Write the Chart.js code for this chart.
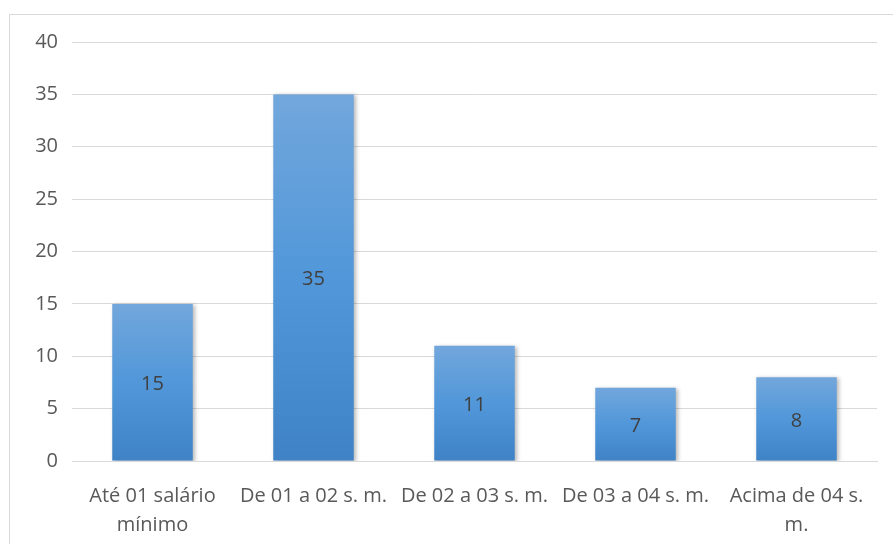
<!DOCTYPE html>
<html>
<head>
<meta charset="utf-8">
<script src="https://cdn.jsdelivr.net/npm/chart.js@4"></script>
<style>
  html, body { margin: 0; padding: 0; background: #fff; overflow: hidden; }
  #wrap { position: relative; width: 893px; height: 544px; }
  #frame { position: absolute; left: 9px; top: 14px; width: 920px; height: 600px; border: 1px solid #d9d9d9; box-sizing: border-box; }
  canvas { position: absolute; left: 0; top: 0; }
</style>
</head>
<body>
<div id="wrap">
  <div id="frame"></div>
  <canvas id="c" width="893" height="544"></canvas>
</div>
<script>
// Faixas de renda familiar
const categories = [
  ['Até 01 salário', 'mínimo'],
  'De 01 a 02 s. m.',
  'De 02 a 03 s. m.',
  'De 03 a 04 s. m.',
  ['Acima de 04 s.', 'm.']
];
const values = [15, 35, 11, 7, 8];
const yTicks = [0, 5, 10, 15, 20, 25, 30, 35, 40];

const FONT = "'Open Sans', 'Liberation Sans', sans-serif";
const TEXT = '#595959';

// vertical gradient for each bar, from its own top down to the baseline
function barFill(ctx) {
  const chart = ctx.chart;
  const { chartArea } = chart;
  if (!chartArea || ctx.parsed === undefined) return '#5b9bd5';
  const y = chart.scales.y;
  const top = y.getPixelForValue(ctx.parsed.y);
  const bottom = y.getPixelForValue(0);
  const g = chart.ctx.createLinearGradient(0, top, 0, bottom);
  g.addColorStop(0, '#72a7dc');
  g.addColorStop(0.5, '#5197d9');
  g.addColorStop(1, '#3f83c6');
  return g;
}

// soft drop shadow behind the bars
const barShadow = {
  id: 'barShadow',
  beforeDatasetsDraw(chart) {
    const c = chart.ctx;
    c.save();
    c.shadowColor = 'rgba(0,0,0,0.28)';
    c.shadowBlur = 4;
    c.shadowOffsetX = 2;
    c.shadowOffsetY = 1;
  },
  afterDatasetsDraw(chart) {
    chart.ctx.restore();
  }
};

// value written in the middle of each bar
const centerLabels = {
  id: 'centerLabels',
  afterDatasetsDraw(chart) {
    const c = chart.ctx;
    const meta = chart.getDatasetMeta(0);
    c.save();
    c.font = '20px ' + FONT;
    c.fillStyle = '#404040';
    c.textAlign = 'center';
    c.textBaseline = 'middle';
    meta.data.forEach((bar, i) => {
      const mid = (bar.y + bar.base) / 2;
      c.fillText(String(values[i]), bar.x, mid + 2);
    });
    c.restore();
  }
};

new Chart(document.getElementById('c'), {
  type: 'bar',
  data: {
    labels: categories,
    datasets: [{
      data: values,
      backgroundColor: barFill,
      borderWidth: 0,
      barPercentage: 0.5,
      categoryPercentage: 1.0
    }]
  },
  options: {
    responsive: false,
    animation: false,
    devicePixelRatio: 1,
    layout: { padding: { top: 42, right: 16, left: 0, bottom: 0 } },
    plugins: { legend: { display: false }, tooltip: { enabled: false } },
    scales: {
      y: {
        min: 0,
        max: 40,
        afterBuildTicks(scale) { scale.ticks = yTicks.map(v => ({ value: v })); },
        afterFit(scale) { scale.width = 72; },
        border: { display: false },
        grid: { color: '#d9d9d9', lineWidth: 1, drawTicks: false },
        ticks: { color: TEXT, font: { family: FONT, size: 20 }, padding: 14 }
      },
      x: {
        afterFit(scale) { scale.height = 83; },
        border: { display: true, color: '#d9d9d9' },
        grid: { display: false },
        ticks: {
          color: TEXT,
          font: { family: FONT, size: 20, lineHeight: 1.45 },
          maxRotation: 0,
          autoSkip: false,
          padding: 13
        }
      }
    }
  },
  plugins: [barShadow, centerLabels]
});
</script>
</body>
</html>
